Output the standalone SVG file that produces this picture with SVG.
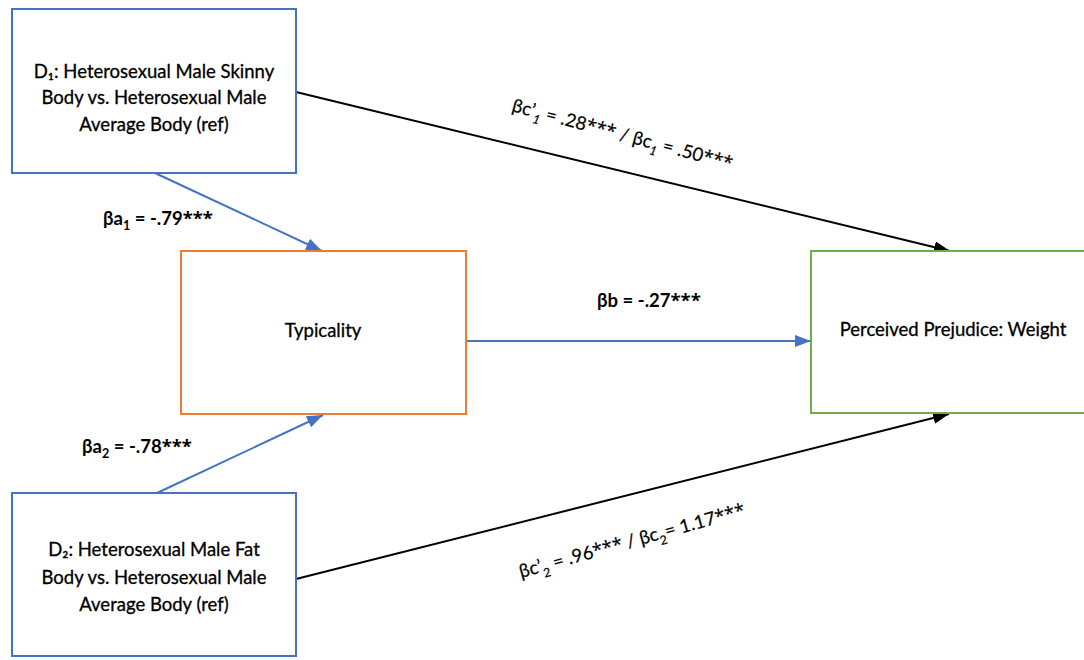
<svg xmlns="http://www.w3.org/2000/svg" width="1084" height="660" viewBox="0 0 1084 660">
<style>
.box{fill:#fff;stroke-width:2}
.t{font-family:Lato,"Open Sans","Liberation Sans",sans-serif;font-size:18.5px;fill:#000;stroke:#000;stroke-width:0.3;text-anchor:middle}
.lb{font-family:Lato,"Open Sans","Liberation Sans",sans-serif;font-size:18.5px;font-weight:bold;fill:#000}
.lr{font-family:Lato,"Open Sans","Liberation Sans",sans-serif;font-size:18.5px;fill:#000;stroke:#000;stroke-width:0.2}
.sub{font-size:12.5px}
.st{font-family:"Open Sans","Liberation Sans",sans-serif}
.blue{stroke:#4472C4;stroke-width:2;fill:none}
.black{stroke:#000;stroke-width:2;fill:none}
</style>
<defs>
<marker id="arrB" viewBox="0 0 16 12" refX="16" refY="6" markerWidth="16" markerHeight="12" markerUnits="userSpaceOnUse" orient="auto">
<path d="M0,0 L16,6 L0,12 z" fill="#4472C4"/>
</marker>
<marker id="arrK" viewBox="0 0 16 12" refX="16" refY="6" markerWidth="16" markerHeight="12" markerUnits="userSpaceOnUse" orient="auto">
<path d="M0,0 L16,6 L0,12 z" fill="#000"/>
</marker>
</defs>
<rect width="1084" height="660" fill="#fff"/>
<g id="connectors">
<line class="blue" x1="155" y1="173" x2="322" y2="251" marker-end="url(#arrB)"/>
<line class="blue" x1="157" y1="493" x2="323" y2="415" marker-end="url(#arrB)"/>
<line class="blue" x1="466" y1="341" x2="811" y2="341" marker-end="url(#arrB)"/>
<line class="black" x1="296" y1="92" x2="950" y2="251" marker-end="url(#arrK)"/>
<line class="black" x1="296" y1="579" x2="949" y2="414" marker-end="url(#arrK)"/>
<text class="lb" x="103" y="225">βa<tspan class="sub" dy="5">1</tspan><tspan dy="-5"> = -.79<tspan class="st">***</tspan></tspan></text>
<text class="lb" x="82" y="453">βa<tspan class="sub" dy="5">2</tspan><tspan dy="-5"> = -.78<tspan class="st">***</tspan></tspan></text>
<text class="lb" x="597" y="307">βb = -.27<tspan class="st">***</tspan></text>
<text class="lr" x="511" y="111" transform="rotate(15 511 111)">βc’<tspan class="sub" dy="6" font-style="italic">1</tspan><tspan dy="-6"> = .28<tspan class="st">***</tspan> / βc</tspan><tspan class="sub" dy="6" font-style="italic">1</tspan><tspan dy="-6"> = .50<tspan class="st">***</tspan></tspan></text>
<text class="lr" x="521" y="578" transform="rotate(-15.5 521 578)">βc’<tspan class="sub" dy="6">2</tspan><tspan dy="-6"> = .96<tspan class="st">***</tspan> / βc</tspan><tspan class="sub" dy="6">2</tspan><tspan dy="-6">= 1.17<tspan class="st">***</tspan></tspan></text>
</g>
<g id="d1">
<rect class="box" x="12" y="9" width="284" height="164" stroke="#4472C4"/>
<text class="t" x="154" y="78">D₁: Heterosexual Male Skinny</text>
<text class="t" x="154" y="104">Body vs. Heterosexual Male</text>
<text class="t" x="154" y="131">Average Body (ref)</text>
</g>
<g id="d2">
<rect class="box" x="12" y="493" width="284" height="163" stroke="#4472C4"/>
<text class="t" x="154" y="556">D₂: Heterosexual Male Fat</text>
<text class="t" x="154" y="584">Body vs. Heterosexual Male</text>
<text class="t" x="154" y="611">Average Body (ref)</text>
</g>
<g id="typicality">
<rect class="box" x="181" y="251" width="285" height="163" stroke="#ED7D31"/>
<text class="t" x="323" y="337">Typicality</text>
</g>
<g id="prejudice">
<rect class="box" x="811" y="251" width="290" height="162" stroke="#70AD47"/>
<text class="t" x="953" y="336">Perceived Prejudice: Weight</text>
</g>
</svg>
